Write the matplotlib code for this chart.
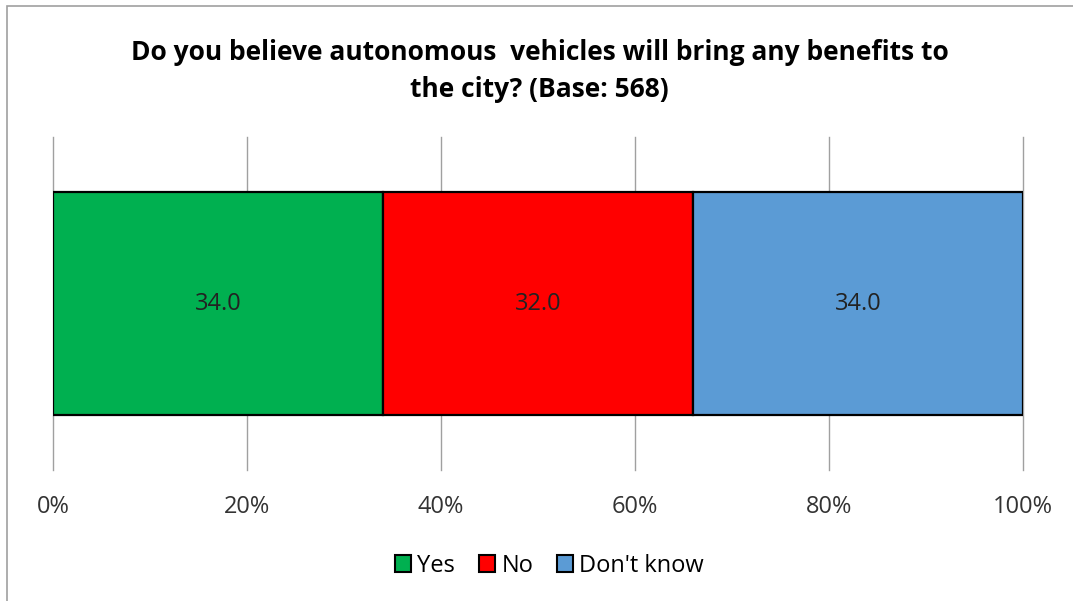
import matplotlib.pyplot as plt
from matplotlib.patches import Rectangle, Patch

plt.rcParams['font.family'] = ['Open Sans', 'DejaVu Sans']

categories = ['Yes', 'No', "Don't know"]
values = [34.0, 32.0, 34.0]
colors = ['#00B050', '#FF0000', '#5B9BD5']
ticks = [0, 20, 40, 60, 80, 100]
tick_labels = ['0%', '20%', '40%', '60%', '80%', '100%']

fig = plt.figure(figsize=(10.73, 6.01), dpi=100)
ax = fig.add_axes([53 / 1073, 1 - 470 / 601, 970 / 1073, 333 / 601])

left = 0
for cat, val, col in zip(categories, values, colors):
    ax.barh(0, val, left=left, height=0.667, color=col, edgecolor='black',
            linewidth=1.6, label=cat, zorder=3)
    ax.text(left + val / 2, 0, f'{val:.1f}', ha='center', va='center',
            fontsize=17, color='#222222', zorder=4)
    left += val

ax.set_xlim(0, 100)
ax.set_ylim(-0.5, 0.5)
ax.set_yticks([])
ax.set_xticks(ticks)
ax.set_xticklabels(tick_labels, fontsize=17, color='#333333')
ax.tick_params(axis='x', length=0, pad=18)
ax.grid(axis='x', color='#A0A0A0', linewidth=1, zorder=0)
for line in ax.get_xgridlines():
    line.set_clip_on(False)
for s in ax.spines.values():
    s.set_visible(False)

fig.text(0.503, 1 - 71 / 601,
         'Do you believe autonomous  vehicles will bring any benefits to\nthe city? (Base: 568)',
         ha='center', va='center', fontsize=19, fontweight='bold',
         linespacing=1.45)

handles = [Patch(facecolor=c, edgecolor='black', linewidth=1.5) for c in colors]
fig.legend(handles, categories, loc='center', bbox_to_anchor=(0.512, 1 - 566 / 601),
           ncol=3, frameon=False, fontsize=17, handlelength=0.7, handleheight=0.7,
           handletextpad=0.25, columnspacing=1.0)

# thin outer frame
fig.patches.append(Rectangle((7 / 1073, -0.1), 1.2, 1 - 6 / 601 + 0.1,
                             transform=fig.transFigure, fill=False,
                             edgecolor='#A0A0A0', linewidth=1.2))

fig.savefig('out.png', dpi=100)
